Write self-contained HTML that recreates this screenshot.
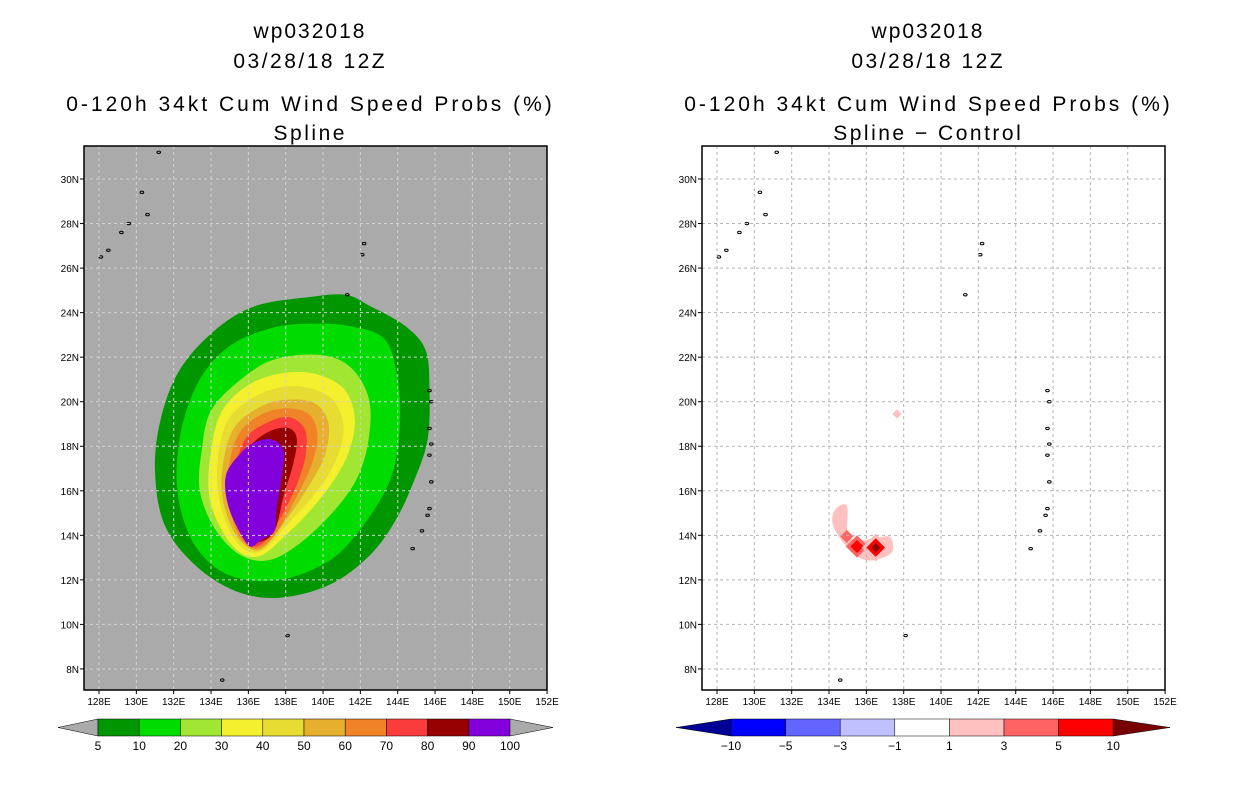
<!DOCTYPE html>
<html><head><meta charset="utf-8">
<style>
body{margin:0;background:#fff;width:1236px;height:800px;overflow:hidden;font-family:"Liberation Sans",sans-serif}
svg text{font-family:"Liberation Sans",sans-serif}
</style></head>
<body>
<svg id="c" width="1236" height="800" xmlns="http://www.w3.org/2000/svg"></svg>
<script>
// ---- data ----
const lonTicks=[128,130,132,134,136,138,140,142,144,146,148,150,152];
const latTicks=[8,10,12,14,16,18,20,22,24,26,28,30];
const probLevels=[5,10,20,30,40,50,60,70,80,90,100];
const probColors=["#009600","#00dc00","#a0e632","#f5f02d","#e6dc32","#e6af2d","#f08228","#fa3c3c","#960000","#8200dc"];
const diffLevels=[-10,-5,-3,-1,1,3,5,10];
const diffColors=["#000096","#0000ff","#6464ff","#c0c0ff","#ffffff","#ffc0c0","#ff6464","#ff0000","#960000"];
// contour polygons [lon,lat] per probability level
const c5=[[134.2,23.2],[136.4,24.3],[139.3,24.7],[141.2,24.8],[142.5,24.3],[144.4,23.4],[145.5,22.3],[145.7,20.5],[145.6,18.3],[144.9,16.5],[143.9,14.7],[142.5,13.1],[140.4,11.8],[137.7,11.2],[135.3,11.5],[133.1,12.7],[131.5,14.5],[131.0,16.9],[131.3,19.2],[132.3,21.4]];
const c10=[[133.4,21.0],[135.0,22.5],[137.2,23.3],[139.3,23.5],[141.4,23.4],[143.3,22.8],[144.0,21.0],[144.1,18.7],[143.6,16.5],[142.2,14.5],[140.4,12.9],[137.7,12.0],[135.0,12.2],[133.1,13.6],[132.2,16.0],[132.4,18.7]];
const c20=[[134.0,19.6],[135.6,21.0],[137.4,21.9],[139.8,22.1],[141.4,21.6],[142.4,20.3],[142.5,18.7],[142.0,16.9],[140.9,15.4],[139.0,13.8],[137.2,12.9],[135.6,13.1],[134.2,14.3],[133.4,16.0],[133.5,17.8]];
const c30=[[134.6,19.6],[136.1,20.8],[138.0,21.3],[139.8,21.2],[141.2,20.5],[141.7,19.2],[141.4,17.8],[140.6,16.5],[139.3,15.1],[138.0,14.0],[136.7,13.1],[135.6,13.2],[134.6,14.2],[133.9,15.8],[134.0,17.8]];
const c40=[[135.0,19.3],[136.5,20.3],[138.2,20.7],[139.7,20.5],[140.7,19.9],[141.1,18.7],[140.6,17.2],[139.5,15.8],[138.2,14.6],[136.9,13.4],[135.9,13.3],[135.0,14.2],[134.4,15.8],[134.4,17.7]];
const c50=[[135.3,18.9],[136.7,19.8],[138.2,20.1],[139.6,19.9],[140.3,19.0],[140.1,17.6],[139.3,16.3],[138.2,14.9],[136.9,13.5],[136.1,13.4],[135.2,14.2],[134.6,15.8],[134.7,17.5]];
const c60=[[135.6,18.7],[136.9,19.5],[138.2,19.7],[139.3,19.4],[139.7,18.5],[139.4,17.2],[138.5,15.6],[137.4,14.0],[136.4,13.4],[135.5,14.0],[134.9,15.6],[135.0,17.3]];
const c70=[[135.9,18.4],[137.1,19.1],[138.2,19.3],[139.0,18.8],[139.1,17.8],[138.7,16.5],[137.8,14.9],[136.7,13.6],[135.8,13.8],[135.2,15.4],[135.3,17.0]];
const c80=[[136.1,18.0],[137.2,18.7],[138.2,18.8],[138.6,18.3],[138.4,17.2],[137.9,15.8],[137.4,14.2],[136.6,13.7],[135.8,13.9],[135.3,15.1],[135.4,16.8]];
const c90=[[135.6,17.7],[136.4,18.2],[137.3,18.3],[137.9,17.8],[137.8,16.7],[137.5,15.1],[137.4,14.2],[136.7,13.8],[136.1,13.5],[135.5,14.2],[134.9,15.4],[134.8,16.7]];
const probContours=[c5,c10,c20,c30,c40,c50,c60,c70,c80,c90];
// difference field features
const diffStrip=[[134.32,15.14],[134.96,15.32],[135.02,14.01],[135.77,13.79],[136.46,13.88],[137.27,13.92],[137.37,13.25],[136.46,12.89],[135.66,12.98],[134.86,13.57],[134.21,14.46]];
const diffLon=[137.64,134.95,135.5,135.5,136.5,136.5,136.5];
const diffLat=[19.45,13.95,13.5,13.5,13.45,13.45,13.45];
const diffVal=[2,4,4,7,2,7,12];
const diffSize=[0.25,0.35,0.6,0.35,0.75,0.5,0.25];
// islands [lon,lat]
const islands=[[131.2,31.2],[132.6,31.6],[130.3,29.4],[130.6,28.4],[129.6,28.0],[129.2,27.6],[128.5,26.8],[128.1,26.5],[142.2,27.1],[142.1,26.6],[141.3,24.8],[145.7,20.5],[145.8,20.0],[145.7,18.8],[145.8,18.1],[145.7,17.6],[145.8,16.4],[145.7,15.2],[145.6,14.9],[145.3,14.2],[144.8,13.4],[138.1,9.5],[134.6,7.5]];

const NS="http://www.w3.org/2000/svg";
const svg=document.getElementById('c');
function el(t,a,p){const e=document.createElementNS(NS,t);for(const k in a)e.setAttribute(k,a[k]);(p||svg).appendChild(e);return e;}
function smooth(pts){let d="";const n=pts.length;for(let i=0;i<n;i++){const p0=pts[(i-1+n)%n],p1=pts[i],p2=pts[(i+1)%n],p3=pts[(i+2)%n];
if(i==0)d+="M"+p1[0]+","+p1[1];
const c1=[p1[0]+(p2[0]-p0[0])/6,p1[1]+(p2[1]-p0[1])/6],c2=[p2[0]-(p3[0]-p1[0])/6,p2[1]-(p3[1]-p1[1])/6];
d+="C"+c1[0].toFixed(1)+","+c1[1].toFixed(1)+" "+c2[0].toFixed(1)+","+c2[1].toFixed(1)+" "+p2[0].toFixed(1)+","+p2[1].toFixed(1);}
return d+"Z";}
function diffColor(v){for(let i=0;i<diffLevels.length;i++){if(v<diffLevels[i])return diffColors[i];}return diffColors[diffColors.length-1];}

function panel(ox,isDiff,sub,cx){
  const L=ox, T=146, W=463, H=544;
  const X=lon=>ox+15+(lon-128)*18.67;
  const Y=lat=>179+(30-lat)*22.27;
  const g=el('g',{});
  
  
  el('rect',{x:L,y:T,width:W,height:H,fill:isDiff?'#fff':'#aaaaaa'},g);
  const clip=el('clipPath',{id:'cl'+ox},g);el('rect',{x:L,y:T,width:W,height:H},clip);
  const m=el('g',{'clip-path':'url(#cl'+ox+')'},g);
  if(!isDiff){
    probContours.forEach((c,i)=>{const p=el('path',{d:smooth(c.map(q=>[X(q[0]),Y(q[1])])),fill:probColors[i]},m);
      
      });
  } else {
    const s=el('path',{d:smooth(diffStrip.map(q=>[X(q[0]),Y(q[1])])),fill:diffColors[5]},m);
    
    
    diffLon.forEach((lo,i)=>{const x=X(lo),y=Y(diffLat[i]),r=diffSize[i]*18.67;
      const p=el('polygon',{points:`${x},${y-r} ${x+r},${y} ${x},${y+r} ${x-r},${y}`,fill:diffColor(diffVal[i])},m);
      
      });
  }
  islands.forEach(q=>{const p=el('ellipse',{cx:X(q[0]),cy:Y(q[1]),rx:1.8,ry:1.2,fill:'none',stroke:'#000','stroke-width':1},m);
    
    });
  const gc=isDiff?'#b4b4b4':'#d2d2d2';
  lonTicks.forEach(lo=>{const x=X(lo);if(x<L+W-1)el('line',{x1:x,y1:T,x2:x,y2:T+H,stroke:gc,'stroke-dasharray':'3,3'},m);
    const t=el('text',{x:x,y:705,'font-size':10,'text-anchor':'middle'},g);t.textContent=lo+'E';
    
    
    el('line',{x1:x,y1:T+H,x2:x,y2:T+H+4,stroke:'#000'},g);});
  latTicks.forEach(la=>{const y=Y(la);el('line',{x1:L,y1:y,x2:L+W,y2:y,stroke:gc,'stroke-dasharray':'3,3'},m);
    const t=el('text',{x:L-5,y:y+4,'font-size':10,'text-anchor':'end'},g);t.textContent=la+'N';
    
    
    el('line',{x1:L-4,y1:y,x2:L,y2:y,stroke:'#000'},g);});
  el('rect',{x:L,y:T,width:W,height:H,fill:'none',stroke:'#000','stroke-width':1.5},g);
  const titles=[['wp032018',38,2],['03/28/18 12Z',68,2.5],['0-120h 34kt Cum Wind Speed Probs (%)',111,3],[sub,140,2.5]];
  titles.forEach((tt,i)=>{const t=el('text',{x:cx+tt[2]/2,y:tt[1],'font-size':21,'text-anchor':'middle','letter-spacing':tt[2]},g);t.textContent=tt[0];
    
    });
}
panel(84,false,'Spline',309);
panel(702,true,'Spline \u2212 Control',927);

function colorbar(x0,x1,bounds,cols,labels,nm){
  const g=el('g',{});
  
  
  const y0=719,y1=736,ym=727.5;
  el('polygon',{points:`${x0},${ym} ${bounds[0]},${y0} ${bounds[0]},${y1}`,fill:cols[0],stroke:'#000','stroke-width':0.5},g);
  for(let i=0;i<bounds.length-1;i++){el('rect',{x:bounds[i],y:y0,width:bounds[i+1]-bounds[i],height:y1-y0,fill:cols[i+1],stroke:'#000','stroke-width':0.5},g);}
  const bl=bounds[bounds.length-1];
  el('polygon',{points:`${bl},${y0} ${x1},${ym} ${bl},${y1}`,fill:cols[cols.length-1],stroke:'#000','stroke-width':0.5},g);
  bounds.forEach((b,i)=>{const t=el('text',{x:b,y:750,'font-size':12,'text-anchor':'middle'},g);t.textContent=labels[i];
    
    });
}
const leftBounds=probLevels.map((v,i)=>98+i*41.2);
colorbar(58,553,leftBounds,["#aaaaaa"].concat(probColors).concat(["#aaaaaa"]),probLevels,'probability-colorbar');
const rightBounds=diffLevels.map((v,i)=>731+i*54.6);
colorbar(676,1170,rightBounds,diffColors.slice(0,8).concat(["#780000"]),diffLevels.map(v=>v<0?'\u2212'+(-v):''+v),'difference-colorbar');
</script>
</body></html>
